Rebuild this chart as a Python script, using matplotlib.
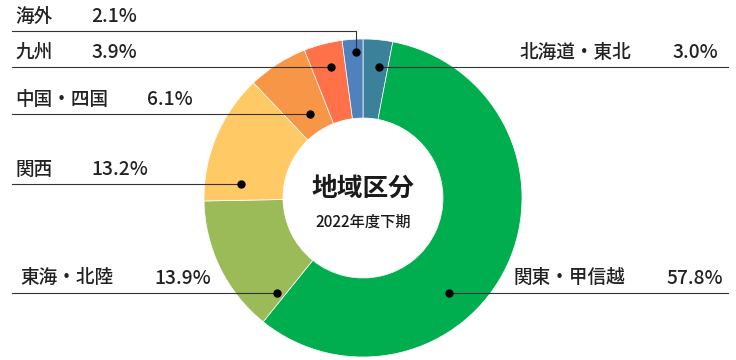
import numpy as np
import matplotlib
matplotlib.use('Agg')
import matplotlib.pyplot as plt

plt.rcParams['font.family'] = ['Noto Sans CJK JP', 'DejaVu Sans']

regions = ['北海道・東北', '関東・甲信越', '東海・北陸', '関西', '中国・四国', '九州', '海外']
shares = [3.0, 57.8, 13.9, 13.2, 6.1, 3.9, 2.1]
colors = ['#3b8199', '#00ae4f', '#9bbb59', '#ffc965', '#f79646', '#ff7149', '#4f81bd']

# layout (pixels, y from top)
W, H = 736, 360
cx, cy = 363, 198
R_out, ring = 159, 79
dot_frac = [0.65, 0.61, 0.07, 0.16, 0.52, 0.56, 0.65]   # position of the dot along the wedge
dot_r = [132, 128, 128, 123, 99, 135, 146]
elbow_y = [None, None, None, None, None, None, 31]
name_x = [519, 513, 20, 15, 15, 15, 15]
pct_x = [718, 723, 154, 91, 147, 91, 91]

fig = plt.figure(figsize=(W / 100, H / 100), dpi=100)
ax = fig.add_axes([0, 0, 1, 1])

wedges, _ = ax.pie(shares, colors=colors, startangle=90, counterclock=False,
                   center=(cx, H - cy), radius=R_out,
                   wedgeprops=dict(width=ring, edgecolor='white', linewidth=0.5))

for k, w in enumerate(wedges):
    a = np.deg2rad(w.theta2 - dot_frac[k] * (w.theta2 - w.theta1))
    dx = cx + dot_r[k] * np.cos(a)
    dy = (H - cy) + dot_r[k] * np.sin(a)
    right = np.cos(a) > 0
    ly = dy if elbow_y[k] is None else H - elbow_y[k]
    if right:
        ax.plot([dx, 728], [ly, ly], color='#333333', lw=0.8, zorder=3)
    else:
        ax.plot([12, dx, dx], [ly, ly, dy], color='#333333', lw=0.8, zorder=3)
    ax.plot(dx, dy, 'o', color='black', ms=5, zorder=4)
    ty = ly + 15
    ax.text(name_x[k], ty, regions[k], fontsize=13.4, fontweight='medium',
            color='#222222', ha='left', va='center')
    ax.text(pct_x[k], ty, f'{shares[k]:.1f}%', fontsize=13.8, fontweight='medium',
            color='#222222', ha='right' if right else 'left', va='center')

ax.text(cx, H - 188, '地域区分', fontsize=18.5, fontweight='bold', color='#1a1a1a',
        ha='center', va='center')
ax.text(cx, H - 222, '2022年度下期', fontsize=11, fontweight='medium', color='#1a1a1a',
        ha='center', va='center')

ax.set_xlim(0, W)
ax.set_ylim(0, H)
ax.set_aspect('equal')
ax.axis('off')

fig.savefig('out.png', dpi=100)
